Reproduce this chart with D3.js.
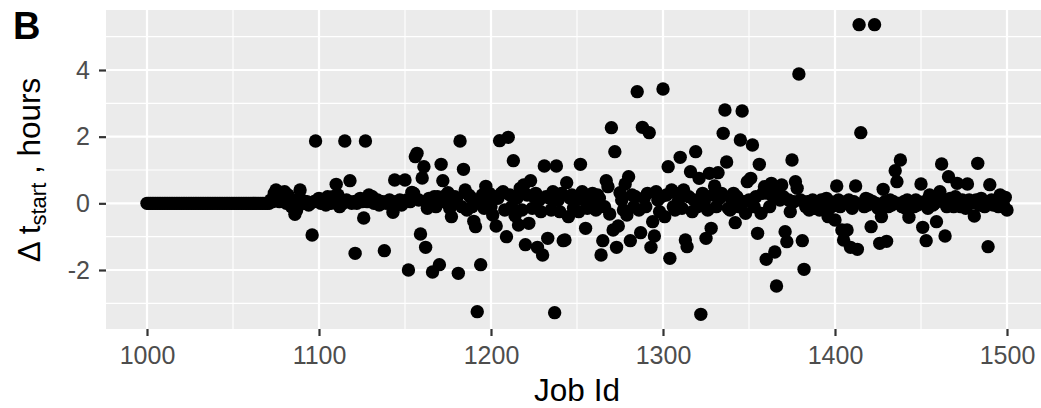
<!DOCTYPE html>
<html>
<head>
<meta charset="utf-8">
<script src="https://cdn.jsdelivr.net/npm/d3@7"></script>
<style>
  body { margin: 0; background: #fff; }
  svg { display: block; font-family: "Liberation Sans", Arial, Helvetica, sans-serif; }
</style>
</head>
<body>
<svg id="chart"></svg>
<script>
// job ids run from firstJobId, one value per job (hours)
const firstJobId = 1000;
const deltaStart = [
  0, 0, 0, 0, 0, 0, 0, 0, 0, 0,            // 1000
  0, 0, 0, 0, 0, 0, 0, 0, 0, 0,            // 1010
  0, 0, 0, 0, 0, 0, 0, 0, 0, 0,            // 1020
  0, 0, 0, 0, 0, 0, 0, 0, 0, 0,            // 1030
  0, 0, 0, 0, 0, 0, 0, 0, 0, 0,            // 1040
  0, 0, 0, 0, 0, 0, 0, 0, 0, 0,            // 1050
  0, 0, 0, 0, 0, 0, 0, 0, 0, 0,            // 1060
  0, 0, 0.1, 0.05, 0.3, 0.4, 0.2, 0.05, 0.15, 0.1,            // 1070
  0.35, 0.0, 0.25, 0.05, -0.1, 0.1, -0.33, -0.2, 0.05, 0.4,   // 1080
  0.1, 0.0, 0.05, 0.05, -0.05, 0.0, -0.95, 0.05, 1.87, 0.1,   // 1090
  0.15, 0.0, 0.05, 0.1, -0.05, 0.2, 0.05, 0.0, 0.2, 0.1,      // 1100
  0.57, 0.25, -0.1, 0.05, 0.0, 1.87, 0.1, 0.05, 0.68, 0.0,    // 1110
  0.05, -1.5, 0.0, 0.1, 0.15, 0.05, -0.44, 1.87, 0.05, 0.25,  // 1120
  0.05, 0.2, 0.0, 0.05, 0.1, -0.05, 0.0, 0.05, -1.42, 0.0,    // 1130
  0.05, 0.1, 0.0, -0.27, 0.7, 0.05, 0.0, 0.1, -0.05, 0.05,    // 1140
  0.7, 0.1, -2.0, 0.05, 0.33, 0.3, 1.4, 1.5, 0.1, -0.92,      // 1150
  0.76, 1.1, -1.32, -0.15, 0.15, 0.0, -2.06, 0.2, -0.1, 0.2,  // 1160
  -1.84, 1.17, 0.68, 0.05, 0.25, 0.32, -0.15, -0.4, 0.1, 0.2, // 1170
  0.15, -2.1, 1.87, -0.1, 1.02, 0.4, -0.2, 0.25, 0.2, -0.1,   // 1180
  -0.54, -0.7, -3.25, 0.1, -1.84, 0.25, -0.15, 0.51, 0.1, 0.3, // 1190
  -0.1, -0.35, 0.2, -0.68, 0.15, 1.88, 0.3, 0.35, -0.2, -1.0, // 1200
  1.98, 0.25, -0.1, 1.28, -0.37, 0.15, -0.65, 0.45, -0.2, 0.55, // 1210
  -1.24, 0.25, -0.6, 0.68, -0.15, 0.2, 0.3, -1.32, 0.1, -0.25, // 1220
  -1.55, 1.12, 0.2, -1.05, 0.15, -0.2, 0.35, -3.28, 1.12, 0.1, // 1230
  -0.25, 0.3, -1.12, -1.1, 0.62, -0.4, 0.15, 0.25, -0.15, 0.1, // 1240
  0.2, -0.25, 1.17, 0.35, 0.1, -0.75, -0.15, 0.2, -0.1, 0.3,  // 1250
  0.1, -0.2, 0.25, 0.15, -1.55, -1.12, -0.1, 0.68, 0.5, -0.32, // 1260
  2.27, -0.8, 1.55, -1.32, -0.68, 0.32, 0.1, -0.2, 0.58, -0.35, // 1270
  0.8, -1.12, 0.25, -0.1, 0.2, 3.35, -0.2, -0.88, 2.28, 0.16, // 1280
  -0.1, 0.3, 2.12, -1.32, -0.55, -0.98, 0.35, 0.1, -0.25, 0.2, // 1290
  3.43, -0.4, 0.25, 1.1, -1.65, 0.4, -0.1, -0.2, 0.3, 0.1,    // 1300
  1.38, -0.15, 0.4, -1.1, -1.3, 0.2, 0.95, -0.25, 0.1, 1.55,  // 1310
  -0.1, 0.75, -3.33, 0.3, 0.05, -1.05, -0.2, 0.9, -0.75, 0.25, // 1320
  0.52, -0.1, 0.92, 0.15, 0.3, 2.1, 2.8, 1.24, -0.15, -0.2,   // 1330
  0.1, 0.3, -0.58, 0.2, -0.1, 1.9, 2.77, 0.05, -0.3, 0.65,    // 1340
  0.1, 0.75, 1.75, -0.1, 0.2, -0.9, 1.17, -0.3, 0.3, 0.5,     // 1350
  -1.68, 0.3, -0.1, 0.6, 0.2, -1.46, -2.48, 0.35, 0.1, 0.55,  // 1360
  0.2, -0.85, -1.15, 0.1, -0.25, 1.3, 0.05, 0.65, 0.45, 3.88, // 1370
  0.1, -1.12, -1.98, -0.1, 0.05, -0.2, 0.0, 0.1, -0.15, -0.05, // 1380
  0.05, -0.2, 0.1, 0.0, -0.1, 0.15, -0.4, 0.05, -0.1, 0.0,    // 1390
  -0.5, 0.52, 0.1, -0.1, -0.8, -1.1, 0.0, -0.8, 0.1, -1.32,   // 1400
  -0.15, 0.05, 0.52, -1.38, 5.36, 2.12, 0.0, -0.1, 0.15, -0.05, // 1410
  0.1, -0.7, 0.05, 5.36, 0.0, -0.15, -1.2, -0.4, 0.42, 0.05,  // 1420
  -1.14, -0.1, 0.1, -0.05, 0.05, 0.98, 0.65, 0.0, 1.3, -0.1,  // 1430
  0.05, -0.15, 0.1, -0.42, 0.0, 0.05, -0.1, 0.1, -0.05, 0.0,  // 1440
  0.58, -0.72, 0.05, -1.12, -0.15, 0.25, 0.1, -0.05, 0.0, -0.55, // 1450
  0.1, 0.35, 1.18, 0.05, -0.98, -0.1, 0.8, 0.15, 0.05, -0.1,  // 1460
  0.2, 0.6, 0.0, -0.1, 0.1, 0.05, -0.15, 0.58, 0.1, 0.0,      // 1470
  0.05, -0.38, 0.1, 1.2, -0.05, 0.15, 0.0, -0.1, 0.05, -1.3,  // 1480
  0.56, 0.1, -0.05, 0.0, 0.1, -0.1, 0.25, 0.05, -0.05, 0.18,  // 1490
  -0.2                                                         // 1500
];

const xTicks = [1000, 1100, 1200, 1300, 1400, 1500];
const xMinorTicks = [1050, 1150, 1250, 1350, 1450];
const yTicks = [-2, 0, 2, 4];
const yMinorTicks = [-3, -1, 1, 3, 5];

const width = 1041;
const height = 408;
const panel = { left: 106, top: 10, right: 1041, bottom: 329 };

const points = deltaStart.map((v, i) => ({ job: firstJobId + i, delta: v }));

const svg = d3.select("#chart")
  .attr("width", width)
  .attr("height", height)
  .attr("viewBox", `0 0 ${width} ${height}`);

const x = d3.scaleLinear().domain([1000, 1500]).range([147, 1007]);
const y = d3.scaleLinear().domain([-2, 4]).range([270, 70]);

// panel background
svg.append("rect")
  .attr("x", panel.left)
  .attr("y", panel.top)
  .attr("width", panel.right - panel.left)
  .attr("height", panel.bottom - panel.top)
  .attr("fill", "#EBEBEB");

const grid = svg.append("g");

grid.selectAll(".ymin")
  .data(yMinorTicks)
  .enter().append("line")
  .attr("x1", panel.left).attr("x2", panel.right)
  .attr("y1", d => y(d)).attr("y2", d => y(d))
  .attr("stroke", "#fff").attr("stroke-width", 1.1);

grid.selectAll(".xmin")
  .data(xMinorTicks)
  .enter().append("line")
  .attr("y1", panel.top).attr("y2", panel.bottom)
  .attr("x1", d => x(d)).attr("x2", d => x(d))
  .attr("stroke", "#fff").attr("stroke-width", 1.1);

grid.selectAll(".ymaj")
  .data(yTicks)
  .enter().append("line")
  .attr("x1", panel.left).attr("x2", panel.right)
  .attr("y1", d => y(d)).attr("y2", d => y(d))
  .attr("stroke", "#fff").attr("stroke-width", 2.2);

grid.selectAll(".xmaj")
  .data(xTicks)
  .enter().append("line")
  .attr("y1", panel.top).attr("y2", panel.bottom)
  .attr("x1", d => x(d)).attr("x2", d => x(d))
  .attr("stroke", "#fff").attr("stroke-width", 2.2);

// points
svg.append("g")
  .selectAll("circle")
  .data(points)
  .enter().append("circle")
  .attr("cx", d => x(d.job))
  .attr("cy", d => y(d.delta))
  .attr("r", 6.7)
  .attr("fill", "#000");

// axes
const xAxis = svg.append("g")
  .attr("transform", `translate(0, ${panel.bottom})`)
  .call(d3.axisBottom(x).tickValues(xTicks).tickFormat(d => String(d)).tickSize(7).tickPadding(10));

const yAxis = svg.append("g")
  .attr("transform", `translate(${panel.left}, 0)`)
  .call(d3.axisLeft(y).tickValues(yTicks).tickFormat(d => String(d)).tickSize(7).tickPadding(9));

[xAxis, yAxis].forEach(ax => {
  ax.select(".domain").remove();
  ax.selectAll(".tick line").attr("stroke", "#333333").attr("stroke-width", 2.2);
  ax.selectAll(".tick text")
    .attr("fill", "#4D4D4D")
    .style("font-size", "25px")
    .style("font-family", "'Liberation Sans', Arial, sans-serif");
});

// axis titles
svg.append("text")
  .attr("x", 577)
  .attr("y", 401)
  .attr("text-anchor", "middle")
  .style("font-size", "31.5px")
  .attr("fill", "#000")
  .text("Job Id");

const yTitle = svg.append("text")
  .attr("transform", "rotate(-90)")
  .attr("x", -170)
  .attr("y", 39.5)
  .attr("text-anchor", "middle")
  .style("font-size", "31.5px")
  .attr("fill", "#000");
yTitle.append("tspan").text("\u0394 t");
yTitle.append("tspan").attr("dy", 6).style("font-size", "22px").text("start");
yTitle.append("tspan").attr("dy", -6).text(" , hours");

// panel tag
svg.append("text")
  .attr("x", 13)
  .attr("y", 39)
  .style("font-size", "38px")
  .style("font-weight", "bold")
  .attr("fill", "#000")
  .text("B");
</script>
</body>
</html>
